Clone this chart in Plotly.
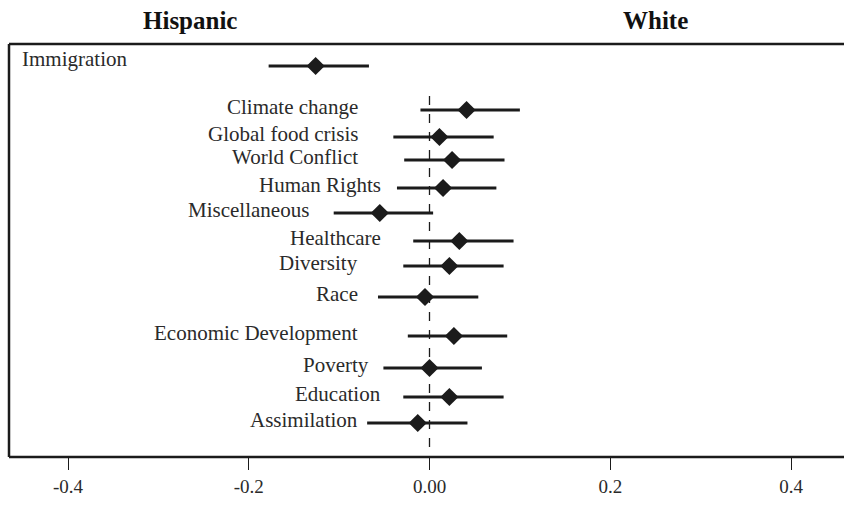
import plotly.graph_objects as go

# ---- data ----
topics = ["Immigration", "Climate change", "Global food crisis", "World Conflict",
          "Human Rights", "Miscellaneous", "Healthcare", "Diversity", "Race",
          "Economic Development", "Poverty", "Education", "Assimilation"]
estimate = [-0.126, 0.041, 0.011, 0.025, 0.015, -0.055, 0.033, 0.022, -0.005,
            0.027, 0.000, 0.022, -0.013]
ci_low = [-0.178, -0.010, -0.040, -0.028, -0.036, -0.106, -0.018, -0.029, -0.057,
          -0.024, -0.051, -0.029, -0.069]
ci_high = [-0.067, 0.100, 0.071, 0.083, 0.074, 0.004, 0.093, 0.082, 0.054,
           0.086, 0.058, 0.082, 0.042]
tick_vals = [-0.4, -0.2, 0.0, 0.2, 0.4]
tick_text = ["-0.4", "-0.2", "0.00", "0.2", "0.4"]
group_titles = ["Hispanic", "White"]

# ---- layout helpers (row positions, label anchors) ----
row_y = [66, 110, 137, 160, 188, 213, 241, 266, 297, 336, 368, 397, 423]
label_x = [None, -0.077, -0.077, -0.077, -0.052, -0.131, -0.052, -0.077, -0.077,
           -0.077, -0.065, -0.052, -0.077]

ink = "#1b1b1b"
serif = "Liberation Serif, Times New Roman, serif"
W = 900  # figure wider than the window so the right frame edge falls outside
PX_PER_UNIT = 903.75
X0_PX = 429.5

err_plus = [h - e for h, e in zip(ci_high, estimate)]
err_minus = [e - l for e, l in zip(estimate, ci_low)]

fig = go.Figure()
fig.add_trace(go.Scatter(
    x=estimate, y=row_y, mode="markers",
    marker=dict(symbol="diamond", size=14, color=ink),
    error_x=dict(type="data", array=err_plus, arrayminus=err_minus,
                 thickness=3, width=0, color=ink),
    showlegend=False, hoverinfo="skip", cliponaxis=False,
))

# zero reference line
fig.add_shape(type="line", xref="x", yref="y", x0=0, x1=0, y0=96, y1=457,
              line=dict(color=ink, width=1.3, dash="dash"), layer="below")
# frame: left, top, bottom edges (right edge lies outside the window)
fig.add_shape(type="line", xref="paper", yref="paper", x0=0, x1=0, y0=0, y1=1,
              line=dict(color=ink, width=2.5))
fig.add_shape(type="line", xref="paper", yref="paper", x0=0, x1=1, y0=1, y1=1,
              line=dict(color=ink, width=2.5))
fig.add_shape(type="line", xref="paper", yref="paper", x0=0, x1=1, y0=0, y1=0,
              line=dict(color=ink, width=2.5))

# labels
for i, t in enumerate(topics):
    if label_x[i] is None:
        fig.add_annotation(x=(20 - 9) / (W - 9), xref="paper", y=row_y[i] - 7, yref="y",
                           text=t, showarrow=False, xanchor="left",
                           font=dict(family=serif, size=21, color="#2a2a2a"))
    else:
        fig.add_annotation(x=label_x[i], xref="x", y=row_y[i] - 3, yref="y",
                           text=t, showarrow=False, xanchor="right",
                           font=dict(family=serif, size=21, color="#2a2a2a"))

# group titles (paper coords: plot spans pixel rows 44..457)
for gx, gt in zip([190, 655], group_titles):
    fig.add_annotation(x=(gx - 9) / (W - 9), xref="paper", y=(457 - 20) / 413, yref="paper",
                       yanchor="middle", xanchor="center",
                       text=f"<b>{gt}</b>", showarrow=False,
                       font=dict(family=serif, size=25, color="#111"))

fig.update_layout(
    width=W, height=512,
    margin=dict(l=9, r=0, t=44, b=55),
    paper_bgcolor="white", plot_bgcolor="white",
    xaxis=dict(range=[(9 - X0_PX) / PX_PER_UNIT, (W - X0_PX) / PX_PER_UNIT],
               tickvals=tick_vals, ticktext=tick_text,
               ticks="outside", ticklen=12, tickwidth=1.3, tickcolor=ink,
               showline=False, showgrid=False, zeroline=False,
               tickfont=dict(family=serif, size=19, color="#2a2a2a")),
    yaxis=dict(range=[457, 44], showline=False,
               showgrid=False, zeroline=False, showticklabels=False, ticks=""),
)
fig.write_html("out.html", config={"displayModeBar": False},
               post_script="document.body.style.margin='0';document.body.style.overflow='hidden';")
